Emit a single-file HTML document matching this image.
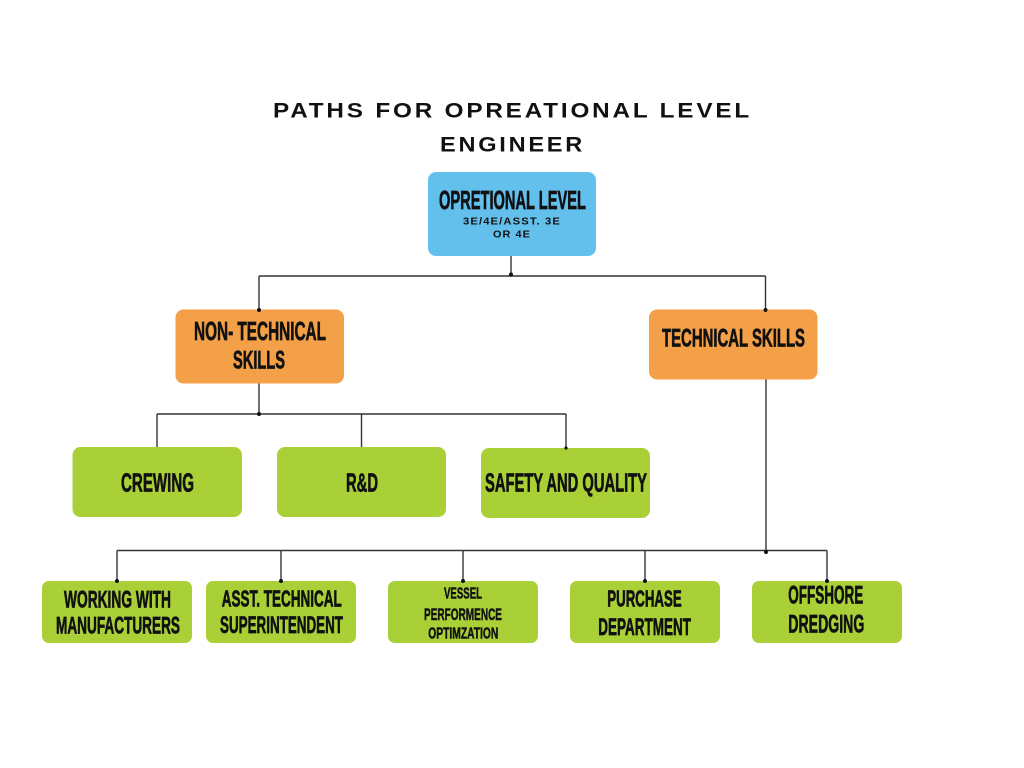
<!DOCTYPE html>
<html>
<head>
<meta charset="utf-8">
<style>
html,body{margin:0;padding:0;background:#fff;}
svg{display:block;}
text{font-family:"Liberation Sans",sans-serif;font-weight:bold;fill:#111;}
.c{stroke:#111;stroke-width:0.7;}
.cs{stroke:#111;stroke-width:0.5;}
.t{letter-spacing:2.5px;}
</style>
</head>
<body>
<svg width="1024" height="768" viewBox="0 0 1024 768" xmlns="http://www.w3.org/2000/svg">
<rect width="1024" height="768" fill="#ffffff"/>

<!-- Title -->
<text class="t" x="273" y="117.5" font-size="21.5" textLength="479" lengthAdjust="spacingAndGlyphs">PATHS FOR OPREATIONAL LEVEL</text>
<text class="t" x="440" y="151.5" font-size="21.5" textLength="145" lengthAdjust="spacingAndGlyphs">ENGINEER</text>

<!-- Connectors -->
<g stroke="#333" stroke-width="1.4" fill="none">
  <line x1="511" y1="256" x2="511" y2="276"/>
  <line x1="259" y1="276" x2="765.5" y2="276"/>
  <line x1="259" y1="276" x2="259" y2="310"/>
  <line x1="765.5" y1="276" x2="765.5" y2="310"/>
  <line x1="259" y1="383" x2="259" y2="414"/>
  <line x1="157" y1="414" x2="566" y2="414"/>
  <line x1="157" y1="414" x2="157" y2="447"/>
  <line x1="361.5" y1="414" x2="361.5" y2="447"/>
  <line x1="566" y1="414" x2="566" y2="448"/>
  <line x1="766" y1="379" x2="766" y2="551"/>
  <line x1="117" y1="550.5" x2="827" y2="550.5"/>
  <line x1="117" y1="550.5" x2="117" y2="581"/>
  <line x1="281" y1="550.5" x2="281" y2="581"/>
  <line x1="463" y1="550.5" x2="463" y2="581"/>
  <line x1="645" y1="550.5" x2="645" y2="581"/>
  <line x1="827" y1="550.5" x2="827" y2="581"/>
</g>

<!-- Top box -->
<rect x="428" y="172" width="168" height="84" rx="8" fill="#63bfec"/>
<text class="c" x="439" y="209" font-size="26" textLength="147" lengthAdjust="spacingAndGlyphs">OPRETIONAL LEVEL</text>
<text x="463" y="224.5" font-size="10" letter-spacing="1" textLength="98" lengthAdjust="spacingAndGlyphs">3E/4E/ASST. 3E</text>
<text x="493" y="237.5" font-size="10" letter-spacing="1" textLength="38" lengthAdjust="spacingAndGlyphs">OR 4E</text>

<!-- Orange boxes -->
<rect x="175.5" y="309.5" width="168.5" height="74" rx="8" fill="#f4a048"/>
<text class="c" x="194" y="340" font-size="26" textLength="132" lengthAdjust="spacingAndGlyphs">NON- TECHNICAL</text>
<text class="c" x="233" y="368.5" font-size="25" textLength="52" lengthAdjust="spacingAndGlyphs">SKILLS</text>

<rect x="649" y="309.5" width="168.5" height="70" rx="8" fill="#f4a048"/>
<text class="c" x="662" y="346.7" font-size="25" textLength="143" lengthAdjust="spacingAndGlyphs">TECHNICAL SKILLS</text>

<!-- Middle green -->
<rect x="72.5" y="447" width="169.5" height="70" rx="8" fill="#a9d037"/>
<text class="c" x="121" y="491.7" font-size="26" textLength="73" lengthAdjust="spacingAndGlyphs">CREWING</text>

<rect x="277" y="447" width="169" height="70" rx="8" fill="#a9d037"/>
<text class="c" x="346" y="491.7" font-size="26" textLength="32" lengthAdjust="spacingAndGlyphs">R&amp;D</text>

<rect x="481" y="448" width="169" height="70" rx="8" fill="#a9d037"/>
<text class="c" x="485" y="491.7" font-size="26" textLength="162" lengthAdjust="spacingAndGlyphs">SAFETY AND QUALITY</text>

<!-- Bottom green -->
<rect x="42" y="581" width="150" height="62" rx="7" fill="#a9d037"/>
<text class="c" x="64" y="607.7" font-size="24" textLength="107" lengthAdjust="spacingAndGlyphs">WORKING WITH</text>
<text class="c" x="56" y="633.7" font-size="24" textLength="124" lengthAdjust="spacingAndGlyphs">MANUFACTURERS</text>

<rect x="206" y="581" width="150" height="62" rx="7" fill="#a9d037"/>
<text class="c" x="221.7" y="606.7" font-size="23" textLength="120" lengthAdjust="spacingAndGlyphs">ASST. TECHNICAL</text>
<text class="c" x="220" y="633" font-size="24" textLength="123" lengthAdjust="spacingAndGlyphs">SUPERINTENDENT</text>

<rect x="388" y="581" width="150" height="62" rx="7" fill="#a9d037"/>
<text class="cs" x="444" y="598.3" font-size="16" textLength="38" lengthAdjust="spacingAndGlyphs">VESSEL</text>
<text class="cs" x="424" y="620" font-size="17" textLength="78" lengthAdjust="spacingAndGlyphs">PERFORMENCE</text>
<text class="cs" x="428.3" y="638.3" font-size="16" textLength="70" lengthAdjust="spacingAndGlyphs">OPTIMZATION</text>

<rect x="570" y="581" width="150" height="62" rx="7" fill="#a9d037"/>
<text class="c" x="607.3" y="606.7" font-size="23" textLength="74.4" lengthAdjust="spacingAndGlyphs">PURCHASE</text>
<text class="c" x="598.3" y="635" font-size="24" textLength="92.7" lengthAdjust="spacingAndGlyphs">DEPARTMENT</text>

<rect x="752" y="581" width="150" height="62" rx="7" fill="#a9d037"/>
<text class="c" x="788.3" y="603.3" font-size="25" textLength="75" lengthAdjust="spacingAndGlyphs">OFFSHORE</text>
<text class="c" x="788.3" y="632.7" font-size="25" textLength="76" lengthAdjust="spacingAndGlyphs">DREDGING</text>

<!-- Dots (on top) -->
<g fill="#111">
  <circle cx="511" cy="274.5" r="2"/>
  <circle cx="259" cy="310" r="2"/>
  <circle cx="765.5" cy="310" r="2"/>
  <circle cx="259" cy="414" r="2"/>
  <circle cx="566" cy="448" r="1.6"/>
  <circle cx="766" cy="552" r="2"/>
  <circle cx="117" cy="581" r="2"/>
  <circle cx="281" cy="581" r="2"/>
  <circle cx="463" cy="581" r="2"/>
  <circle cx="645" cy="581" r="2"/>
  <circle cx="827" cy="581" r="2"/>
</g>
</svg>
</body>
</html>
